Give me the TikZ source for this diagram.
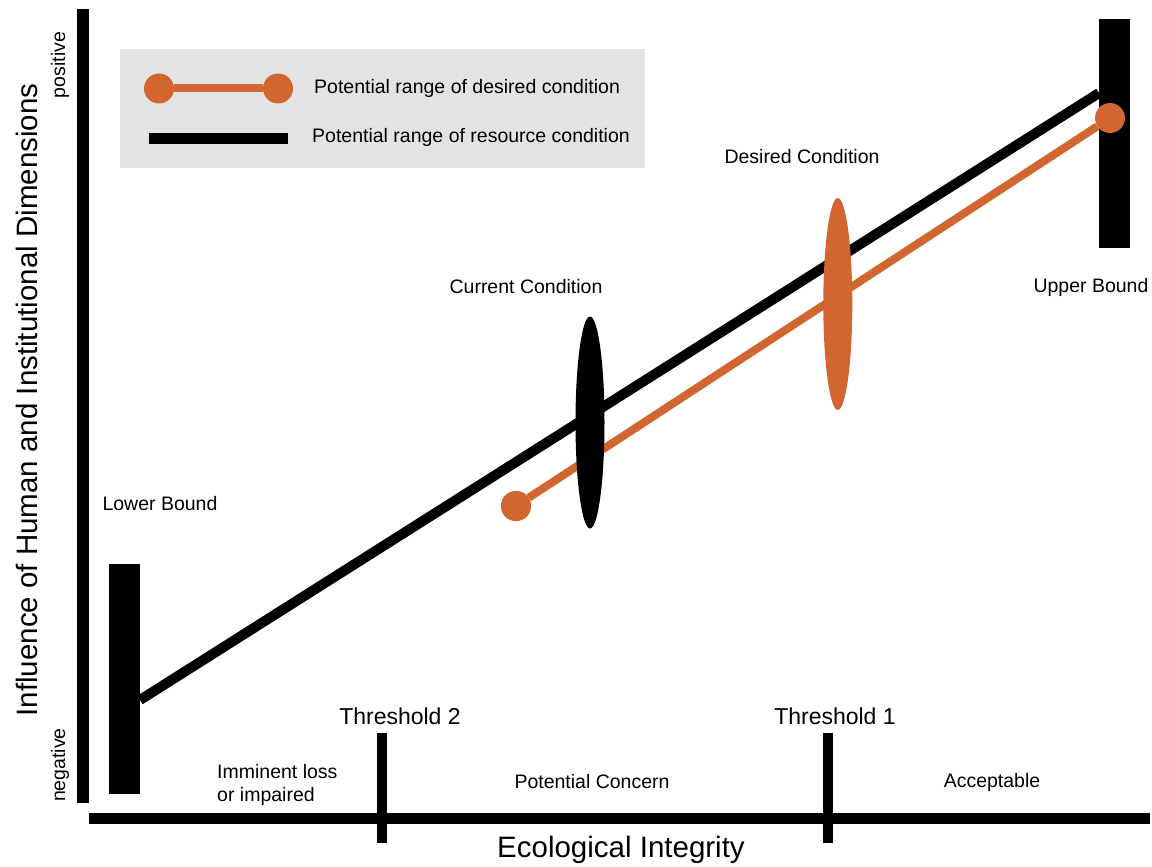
\documentclass[tikz,border=0pt]{standalone}
\usepackage{fontspec}
\setmainfont{Liberation Sans}
\usetikzlibrary{shapes.geometric}
\definecolor{rust}{RGB}{210,102,48}
\definecolor{legendgray}{RGB}{227,227,227}
\begin{document}
\begin{tikzpicture}[x=1pt,y=-1pt,
  small/.style={font=\fontsize{19.5}{23}\selectfont, inner sep=0pt},
  medium/.style={font=\fontsize{23}{27}\selectfont, inner sep=0pt},
  large/.style={font=\fontsize{29.5}{34}\selectfont, inner sep=0pt},
  bar/.style={fill=black, draw=none, rectangle, inner sep=0pt},
  dot/.style={circle, fill=rust, draw=none, minimum size=30pt, inner sep=0pt},
  rangeline/.style={line width=10pt, black},
  desiredline/.style={line width=8pt, rust},
  condition/.style={ellipse, draw=none, minimum width=29pt, minimum height=212pt, inner sep=0pt}]
\useasboundingbox (0,0) rectangle (1152,867);

% axes
\fill (77,9) rectangle (89,803);
\fill (89,812.5) rectangle (1150,824);
% threshold ticks
\fill (377,733) rectangle (387,843);
\fill (823,733) rectangle (833,843);

% legend
\fill[legendgray] (120,49) rectangle (645,168);
\node[dot] (ldA) at (159,88.5) {};
\node[dot] (ldB) at (278,88.5) {};
\draw[desiredline] (ldA) -- (ldB);
\node[bar, minimum width=139pt, minimum height=11pt] (lbar) at (218.5,138.5) {};
\node[small, anchor=west] (ltxt1) at (314,88.5) {Potential range of desired condition};
\node[small, anchor=west] (ltxt2) at (312,137.5) {Potential range of resource condition};

% bounds
\node[bar, minimum width=31pt, minimum height=230pt] (lower) at (124.5,679) {};
\node[bar, minimum width=31pt, minimum height=229pt] (upper) at (1114.5,133.5) {};
\coordinate (rlo) at (140,700);
\coordinate (rhi) at (1099,93);
\draw[rangeline] (rlo) -- (rhi);

% desired range
\node[dot] (dlo) at (516,506) {};
\node[dot] (dhi) at (1110,118) {};
\draw[desiredline] (dlo) -- (dhi);
\node[dot] at (dlo) {};

% conditions
\node[condition, fill=black] (cur) at (590,422.5) {};
\node[condition, fill=rust] (des) at (837.8,304) {};

% labels
\node[small] (tdes) at (802,157) {Desired Condition};
\node[small] (tcur) at (526,287) {Current Condition};
\node[small] (tup) at (1091,287) {Upper Bound};
\node[small] (tlow) at (160,504) {Lower Bound};
\node[medium] (tt2) at (400,716) {Threshold 2};
\node[medium] (tt1) at (835,716) {Threshold 1};
\node[small, align=left, anchor=west] (timm) at (217,784.5) {Imminent loss\\or impaired};
\node[small] (tpc) at (592,782) {Potential Concern};
\node[small] (tacc) at (992,782) {Acceptable};
\node[large] (tx) at (621,850) {Ecological Integrity};
\node[large, rotate=90] (ty) at (27,400) {Influence of Human and Institutional Dimensions};
\node[small, rotate=90] (tpos) at (60,65) {positive};
\node[small, rotate=90] (tneg) at (60,765) {negative};
\end{tikzpicture}
\end{document}
